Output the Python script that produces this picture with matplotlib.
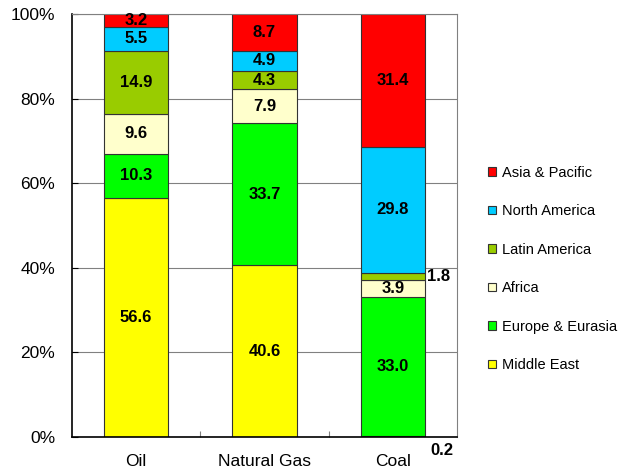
import numpy as np
import matplotlib.pyplot as plt

plt.rcParams["font.family"] = ["Liberation Sans", "DejaVu Sans"]

fuels = ["Oil", "Natural Gas", "Coal"]
regions = ["Middle East", "Europe & Eurasia", "Africa",
           "Latin America", "North America", "Asia & Pacific"]
shares = {
    "Middle East":      [56.6, 40.6, 0.2],
    "Europe & Eurasia": [10.3, 33.7, 33.0],
    "Africa":           [9.6, 7.9, 3.9],
    "Latin America":    [14.9, 4.3, 1.8],
    "North America":    [5.5, 4.9, 29.8],
    "Asia & Pacific":   [3.2, 8.7, 31.4],
}
colors = {
    "Middle East": "#FFFF00",
    "Europe & Eurasia": "#00FF00",
    "Africa": "#FFFFCC",
    "Latin America": "#99CC00",
    "North America": "#00CCFF",
    "Asia & Pacific": "#FF0000",
}

fig = plt.figure(figsize=(6.19, 4.74), dpi=100)
ax = fig.add_axes([0.1163, 0.078, 0.622, 0.892])

x = np.arange(len(fuels))
bottom = np.zeros(len(fuels))
handles = []
for reg in regions:
    vals = np.array(shares[reg])
    h = ax.bar(x, vals, 0.5, bottom=bottom, color=colors[reg],
               edgecolor="#333333", linewidth=0.8, label=reg, zorder=2)
    handles.append(h)
    for i, v in enumerate(vals):
        mid = bottom[i] + v / 2
        if v < 2.5:
            # thin slices get their label outside the bar
            if reg == "Middle East":
                ax.text(x[i] + 0.29, -1.5, f"{v:.1f}", ha="left", va="top",
                        fontsize=12, fontweight="bold", clip_on=False)
            else:
                ax.text(x[i] + 0.27, mid, f"{v:.1f}", ha="left", va="center",
                        fontsize=12, fontweight="bold")
        else:
            ax.text(x[i], mid, f"{v:.1f}", ha="center", va="center",
                    fontsize=12, fontweight="bold", zorder=3)
    bottom += vals

ax.set_xlim(-0.5, 2.5)
ax.set_ylim(0, 100)
ax.set_yticks(np.arange(0, 101, 20))
ax.set_yticklabels([f"{t}%" for t in range(0, 101, 20)], fontsize=12.5)
ax.yaxis.grid(True, color="#808080", linewidth=0.8, zorder=0)
ax.tick_params(axis="y", direction="in", length=4, pad=12)

ax.set_xticks([0.5, 1.5])
ax.set_xticklabels([])
ax.tick_params(axis="x", which="major", direction="in", length=4, color="#808080")
ax.set_xticks(x, minor=True)
ax.set_xticklabels(fuels, minor=True, fontsize=12.5)
ax.tick_params(axis="x", which="minor", length=0, pad=12)

for side in ["left", "bottom"]:
    ax.spines[side].set_color("black")
    ax.spines[side].set_linewidth(1.2)
for side in ["top", "right"]:
    ax.spines[side].set_color("#808080")
    ax.spines[side].set_linewidth(0.8)

fig.legend(handles[::-1], regions[::-1], loc="center left",
           bbox_to_anchor=(0.789, 0.4325), frameon=False, fontsize=10.5,
           handlelength=0.5, handleheight=0.5, handletextpad=0.45,
           labelspacing=1.68, borderpad=0, borderaxespad=0)

fig.savefig("out.png", dpi=100)
